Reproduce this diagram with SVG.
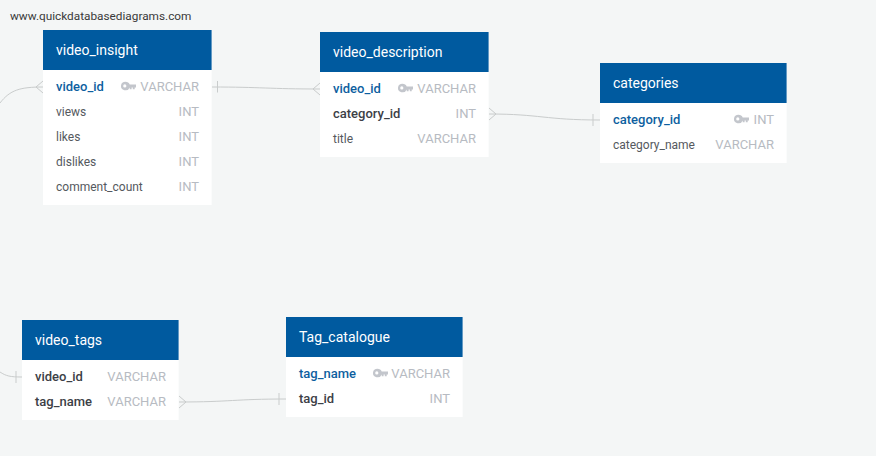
<svg xmlns="http://www.w3.org/2000/svg" width="876" height="456" viewBox="0 0 876 456">
<style>
text{font-family:Roboto,"Liberation Sans",sans-serif;font-size:12px}
.hd{fill:#005a9f}
.bd{fill:#fff}
.tt{fill:#fff;font-size:14px}
.pk{fill:#0e5f9f;font-weight:500;font-size:13px}
.fk{fill:#3c4046;font-weight:500;font-size:13px}
.f{fill:#55595e}
.ty{fill:#b7bbc2;text-anchor:end;font-size:13px}
.cn{fill:none;stroke:#c9cccc;stroke-width:1}
.key{fill:#c3c6cc}
.wm{fill:#3a3a3a;font-size:11.800px}
</style>
<defs>
<g id="k"><path class="key" d="M4.500 -4.300a4.500 4.300 0 0 1 4.200 2.800H15v3h-1.300v1.800h-1.900V1.500h-1.200v1.800H8.700V1.500A4.500 4.300 0 1 1 4.500 -4.300zM3.800 -1.700a1.600 1.600 0 1 0 0 3.200a1.600 1.600 0 0 0 0 -3.200z"/></g>
</defs>
<rect width="876" height="456" fill="#f4f6f6"/>
<text class="wm" x="10" y="20">www.quickdatabasediagrams.com</text>
<g id="connectors">
<path class="cn" d="M0 103C10 90 20 87 43 87M36 87L43 81M36 87L43 93"/>
<path class="cn" d="M212 87C260 87 270 89 320 89M217.500 81V92.500M313 89L320 83M313 89L320 95"/>
<path class="cn" d="M489 114C540 114 545 120 600 120M489 108L496 114L489 120M593 114V126"/>
<path class="cn" d="M0 372C6 376 10 377 22 377M16 371V383"/>
<path class="cn" d="M179 402C230 402 235 399 286 399M179 396L186 402L179 408M279 393V405"/>
</g>
<g id="video_insight">
<rect class="bd" x="43" y="30" width="168.600" height="175"/>
<rect class="hd" x="43" y="30" width="168.600" height="40"/>
<text class="tt" x="56" y="55">video_insight</text>
<text class="pk" x="56" y="91">video_id</text><use href="#k" x="121" y="86"/><text class="ty" x="199" y="91">VARCHAR</text>
<text class="f" x="56" y="116">views</text><text class="ty" x="199" y="116">INT</text>
<text class="f" x="56" y="141">likes</text><text class="ty" x="199" y="141">INT</text>
<text class="f" x="56" y="166">dislikes</text><text class="ty" x="199" y="166">INT</text>
<text class="f" x="56" y="191">comment_count</text><text class="ty" x="199" y="191">INT</text>
</g>
<g id="video_description">
<rect class="bd" x="320" y="32" width="168.600" height="125"/>
<rect class="hd" x="320" y="32" width="168.600" height="40"/>
<text class="tt" x="333" y="57">video_description</text>
<text class="pk" x="333" y="93">video_id</text><use href="#k" x="398" y="88"/><text class="ty" x="476" y="93">VARCHAR</text>
<text class="fk" x="333" y="118">category_id</text><text class="ty" x="476" y="118">INT</text>
<text class="f" x="333" y="143">title</text><text class="ty" x="476" y="143">VARCHAR</text>
</g>
<g id="categories">
<rect class="bd" x="600" y="63" width="186.600" height="100"/>
<rect class="hd" x="600" y="63" width="186.600" height="40"/>
<text class="tt" x="613" y="88">categories</text>
<text class="pk" x="613" y="124">category_id</text><use href="#k" x="734" y="119"/><text class="ty" x="774" y="124">INT</text>
<text class="f" x="613" y="149">category_name</text><text class="ty" x="774" y="149">VARCHAR</text>
</g>
<g id="video_tags">
<rect class="bd" x="22" y="320" width="156.600" height="100"/>
<rect class="hd" x="22" y="320" width="156.600" height="40"/>
<text class="tt" x="35" y="345">video_tags</text>
<text class="fk" x="35" y="381">video_id</text><text class="ty" x="166" y="381">VARCHAR</text>
<text class="fk" x="35" y="406">tag_name</text><text class="ty" x="166" y="406">VARCHAR</text>
</g>
<g id="Tag_catalogue">
<rect class="bd" x="286" y="317" width="176.600" height="100"/>
<rect class="hd" x="286" y="317" width="176.600" height="40"/>
<text class="tt" x="299" y="342">Tag_catalogue</text>
<text class="pk" x="299" y="378">tag_name</text><use href="#k" x="373" y="373"/><text class="ty" x="450" y="378">VARCHAR</text>
<text class="fk" x="299" y="403">tag_id</text><text class="ty" x="450" y="403">INT</text>
</g>
</svg>
